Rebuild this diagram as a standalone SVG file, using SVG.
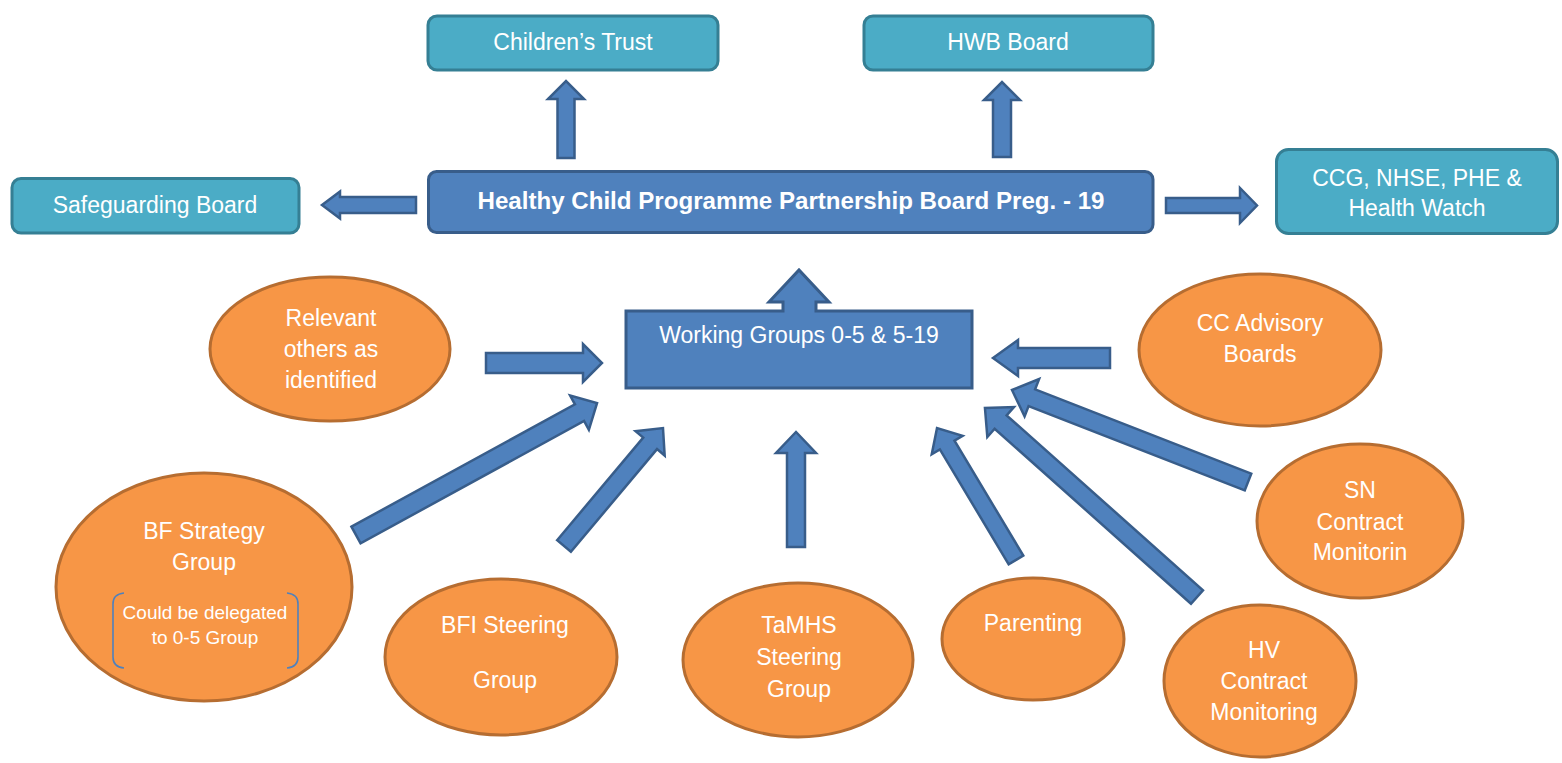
<svg xmlns="http://www.w3.org/2000/svg" width="1562" height="763" viewBox="0 0 1562 763">
<style>
.teal{fill:#4bacc6;stroke:#357f94;stroke-width:3}
.blue{fill:#4f81bd;stroke:#385d8a;stroke-width:3}
.oval{fill:#f79646;stroke:#b66d31;stroke-width:3}
.arr{fill:#4f81bd;stroke:#385d8a;stroke-width:2.5;stroke-linejoin:miter}
.t{font-family:"Liberation Sans",Arial,sans-serif;font-size:23px;fill:#ffffff;text-anchor:middle}
.tb{font-weight:bold;font-size:24px}
.ts{font-size:19px}
.br{fill:none;stroke:#4f81bd;stroke-width:1.6}
</style>
<rect width="1562" height="763" fill="#ffffff"/>
<g id="connectors">
<polygon class="arr" points="557.5,158 557.5,99 548,99 566,81 584,99 574.5,99 574.5,158"/>
<polygon class="arr" points="993,157 993,100 984,100 1002,82 1020,100 1011,100 1011,157"/>
<polygon class="arr" points="416,197 340,197 340,191.5 322,205 340,218.5 340,213 416,213"/>
<polygon class="arr" points="1166,198 1240,198 1240,188 1257,205.5 1240,223 1240,213 1166,213"/>
<polygon class="arr" points="486,353 583,353 583,344 602,363 583,382 583,373 486,373"/>
<polygon class="arr" points="1110,348 1018,348 1018,340 993,358 1018,376 1018,368 1110,368"/>
<polygon class="arr" transform="translate(356,535) rotate(-28.7)" points="0,-9.5 254.8,-9.5 254.8,-19.5 274.8,0 254.8,19.5 254.8,9.5 0,9.5"/>
<polygon class="arr" transform="translate(564,546) rotate(-50)" points="0,-9 134,-9 134,-19 154,0 134,19 134,9 0,9"/>
<polygon class="arr" transform="translate(796,547) rotate(-90)" points="0,-9 94,-9 94,-20 115,0 94,20 94,9 0,9"/>
<polygon class="arr" transform="translate(1016,560) rotate(-120.9)" points="0,-8.5 134,-8.5 134,-18 153.8,0 134,18 134,8.5 0,8.5"/>
<polygon class="arr" transform="translate(1197,597) rotate(-138.3)" points="0,-9 263,-9 263,-20 284,0 263,20 263,9 0,9"/>
<polygon class="arr" transform="translate(1248,482) rotate(-158.7)" points="0,-9 232,-9 232,-20 253.3,0 232,20 232,9 0,9"/>
</g>
<g id="childrens-trust">
<rect class="teal" x="428" y="16" width="290" height="54" rx="9"/>
<text class="t" x="573" y="50">Children’s Trust</text>
</g>
<g id="hwb-board">
<rect class="teal" x="864" y="16" width="289" height="54" rx="9"/>
<text class="t" x="1008" y="50">HWB Board</text>
</g>
<g id="safeguarding-board">
<rect class="teal" x="12" y="178.5" width="287" height="54.5" rx="9"/>
<text class="t" x="155" y="213">Safeguarding Board</text>
</g>
<g id="partnership-board">
<rect class="blue" x="428.5" y="171.5" width="724.5" height="61" rx="8"/>
<text class="t tb" x="791" y="209" textLength="627" lengthAdjust="spacingAndGlyphs">Healthy Child Programme Partnership Board Preg. - 19</text>
</g>
<g id="ccg">
<rect class="teal" x="1276.5" y="149.5" width="281" height="84" rx="12"/>
<text class="t" x="1417" y="186">CCG, NHSE, PHE &amp;</text>
<text class="t" x="1417" y="216">Health Watch</text>
</g>
<g id="working-groups">
<polygon class="blue" points="626,311 783,311 783,302 769,302 799,270 829,302 816,302 816,311 972,311 972,388 626,388"/>
<text class="t" x="799" y="343">Working Groups 0-5 &amp; 5-19</text>
</g>
<g id="relevant-others">
<ellipse class="oval" cx="330" cy="349" rx="120" ry="72"/>
<text class="t" x="331" y="326">Relevant</text>
<text class="t" x="331" y="357">others as</text>
<text class="t" x="331" y="388">identified</text>
</g>
<g id="cc-advisory">
<ellipse class="oval" cx="1260" cy="350" rx="121" ry="76"/>
<text class="t" x="1260" y="331">CC Advisory</text>
<text class="t" x="1260" y="362">Boards</text>
</g>
<g id="bf-strategy">
<ellipse class="oval" cx="204" cy="587" rx="148" ry="114"/>
<text class="t" x="204" y="539">BF Strategy</text>
<text class="t" x="204" y="570">Group</text>
<path class="br" d="M124,593 Q113,594 113,604 L113,657 Q113,667 124,668"/>
<path class="br" d="M287,593 Q298,594 298,604 L298,657 Q298,667 287,668"/>
<text class="t ts" x="205" y="619">Could be delegated</text>
<text class="t ts" x="205" y="644">to 0-5 Group</text>
</g>
<g id="bfi-steering">
<ellipse class="oval" cx="501" cy="657" rx="116" ry="78"/>
<text class="t" x="505" y="633">BFI Steering</text>
<text class="t" x="505" y="688">Group</text>
</g>
<g id="tamhs">
<ellipse class="oval" cx="798" cy="660" rx="115" ry="77"/>
<text class="t" x="799" y="633">TaMHS</text>
<text class="t" x="799" y="665">Steering</text>
<text class="t" x="799" y="697">Group</text>
</g>
<g id="parenting">
<ellipse class="oval" cx="1033" cy="639" rx="91" ry="61"/>
<text class="t" x="1033" y="631">Parenting</text>
</g>
<g id="hv-contract">
<ellipse class="oval" cx="1260" cy="681" rx="96" ry="76"/>
<text class="t" x="1264" y="658">HV</text>
<text class="t" x="1264" y="689">Contract</text>
<text class="t" x="1264" y="720">Monitoring</text>
</g>
<g id="sn-contract">
<ellipse class="oval" cx="1360" cy="521" rx="103" ry="77"/>
<text class="t" x="1360" y="498">SN</text>
<text class="t" x="1360" y="530">Contract</text>
<text class="t" x="1360" y="560">Monitorin</text>
</g>
</svg>
